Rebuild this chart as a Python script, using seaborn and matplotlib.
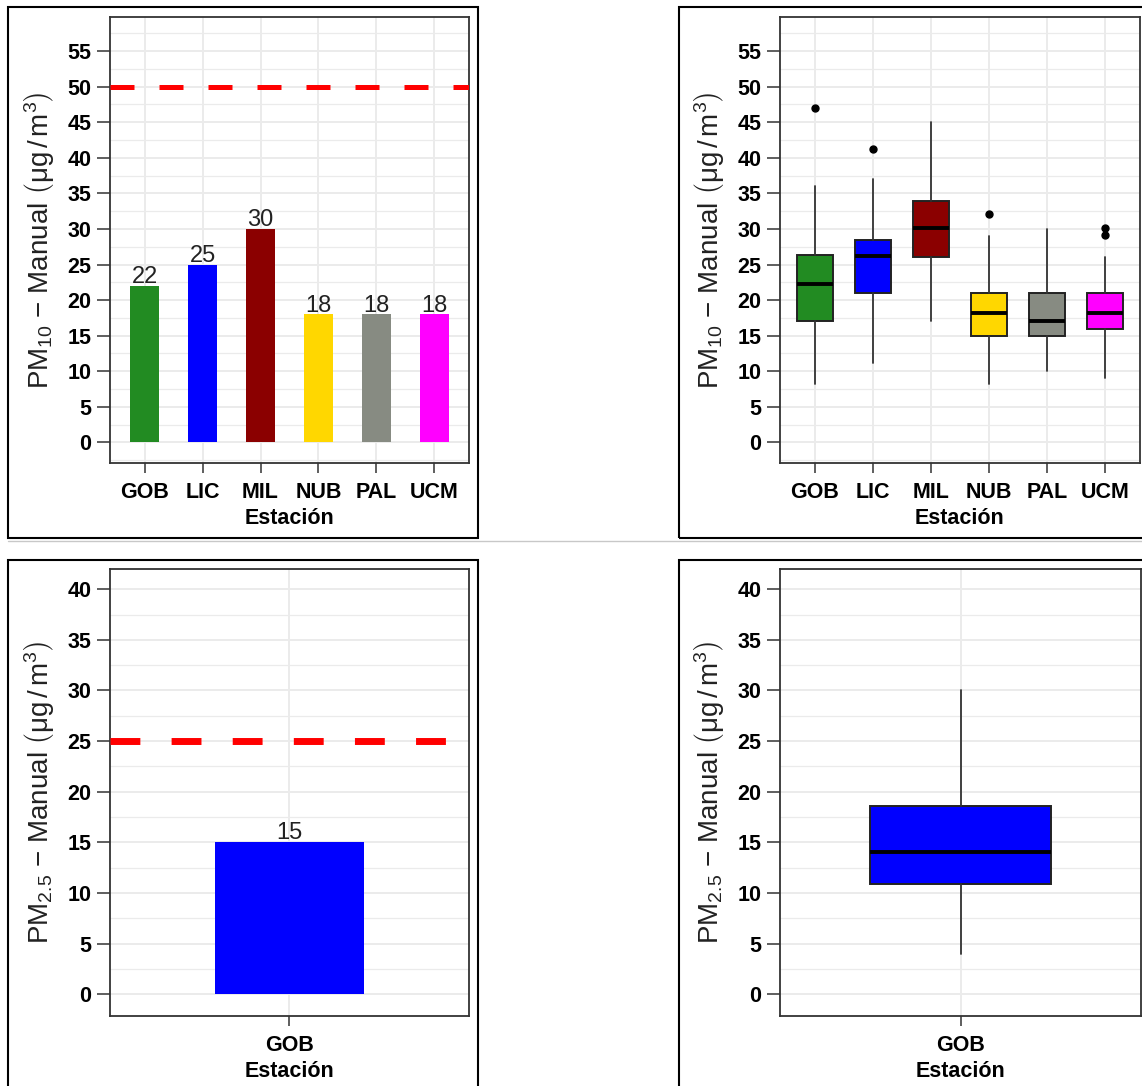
import matplotlib
matplotlib.use("Agg")
import matplotlib.pyplot as plt
from matplotlib.patches import Rectangle
from matplotlib.lines import Line2D
from matplotlib.ticker import MultipleLocator
import seaborn as sns

# data
stations = ['GOB', 'LIC', 'MIL', 'NUB', 'PAL', 'UCM']
station_colors = ['#228B22', '#0000FF', '#8B0000', '#FFD700', '#878B82', '#FF00FF']
pm10_mean = [22, 25, 30, 18, 18, 18]
pm10_q1 = [17, 21, 26, 15, 15, 16]
pm10_med = [22.3, 26.2, 30.2, 18.2, 17, 18.2]
pm10_q3 = [26.3, 28.4, 34, 21, 21, 21]
pm10_lo = [8.2, 11.2, 17, 8.2, 10, 9]
pm10_hi = [36, 37, 45, 29, 30, 26]
pm10_out = [[47], [41.2], [], [32.1], [], [29.2, 30.2]]
pm10_limit = 50

pm25_stations = ['GOB']
pm25_colors = ['#0000FF']
pm25_mean = [15]
pm25_q1 = [10.9]
pm25_med = [14]
pm25_q3 = [18.6]
pm25_lo = [4]
pm25_hi = [30]
pm25_out = [[]]
pm25_limit = 25

sns.set_theme(style='whitegrid')
plt.rcParams['font.family'] = ['Liberation Sans', 'DejaVu Sans']
plt.rcParams['mathtext.fontset'] = 'custom'
plt.rcParams['mathtext.rm'] = 'Liberation Sans'
plt.rcParams['mathtext.it'] = 'Liberation Sans:italic'
plt.rcParams['mathtext.bf'] = 'Liberation Sans:bold'
plt.rcParams['mathtext.default'] = 'regular'

W, H = 1142, 1086
fig = plt.figure(figsize=(W / 100, H / 100), dpi=100)
fig.patch.set_facecolor('white')


def ax_at(x0, y0, x1, y1):
    return fig.add_axes([x0 / W, 1 - y1 / H, (x1 - x0) / W, (y1 - y0) / H])


def frame(x0, y0, x1, y1):
    fig.patches.append(Rectangle((x0 / W, 1 - y1 / H), (x1 - x0) / W, (y1 - y0) / H,
                                 transform=fig.transFigure, fill=False,
                                 edgecolor='black', lw=1.5))


def style(ax, labels, ylim, ytop, pm):
    n = len(labels)
    ax.set_xlim(-0.6, n - 0.4)
    ax.set_ylim(*ylim)
    ax.set_xticks(range(n))
    ax.set_xticklabels(labels)
    ax.set_yticks(range(0, ytop + 1, 5))
    ax.yaxis.set_minor_locator(MultipleLocator(2.5))
    ax.set_facecolor('white')
    ax.set_axisbelow(True)
    ax.grid(True, which='major', color='#EBEBEB', lw=1.4)
    ax.grid(True, which='minor', axis='y', color='#EBEBEB', lw=0.9)
    ax.xaxis.grid(True, which='major', color='#EBEBEB', lw=1.4)
    for s in ax.spines.values():
        s.set_visible(True)
        s.set_color('#333333')
        s.set_linewidth(1.3)
    ax.tick_params(axis='y', which='major', length=9.5, width=1.1, color='#333333',
                   pad=4, labelsize=15.5, left=True)
    ax.tick_params(axis='x', which='major', length=7.5, width=1.1, color='#333333',
                   pad=6, labelsize=15.5, bottom=True)
    ax.tick_params(which='minor', length=0)
    for t in ax.get_xticklabels() + ax.get_yticklabels():
        t.set_fontweight('bold')
        t.set_color('black')
    ax.set_xlabel('Estación', fontsize=15.5, fontweight='bold', color='black', labelpad=4)
    ax.set_ylabel(r'PM$_{%s}$ − Manual $\left(\mu g\,/\,m^{3}\right)$' % pm,
                  fontsize=20, color='#222222', labelpad=8)


def bars(ax, labels, values, colors, limit, dash):
    sns.barplot(x=labels, y=values, hue=labels, palette=colors, width=0.5,
                dodge=False, legend=False, saturation=1, ax=ax, linewidth=0)
    for i, v in enumerate(values):
        ax.text(i, v + 0.35, str(v), ha='center', va='baseline', fontsize=17,
                color='#222222')
    ax.axhline(limit, color='#FF0000', lw=dash[0], ls=(0, dash[1:]), zorder=3)


def boxes(ax, colors, q1, med, q3, lo, hi, out, width):
    stats = []
    for i in range(len(colors)):
        stats.append({'q1': q1[i], 'med': med[i], 'q3': q3[i],
                      'whislo': lo[i], 'whishi': hi[i], 'fliers': out[i]})
    bp = ax.bxp(stats, positions=range(len(colors)), widths=width, patch_artist=True,
                showcaps=False, manage_ticks=False,
                boxprops=dict(edgecolor='#222222', lw=1.4),
                medianprops=dict(color='black', lw=2.8),
                whiskerprops=dict(color='#333333', lw=1.3),
                flierprops=dict(marker='o', markerfacecolor='black',
                                markeredgecolor='black', markersize=5))
    for patch, c in zip(bp['boxes'], colors):
        patch.set_facecolor(c)
        patch.set_zorder(2)


# top left: PM10 means
ax1 = ax_at(110, 17, 469, 463)
bars(ax1, stations, pm10_mean, station_colors, pm10_limit, (3.6, 4.8, 5.0))
style(ax1, stations, (-2.9, 59.8), 55, '10')

# top right: PM10 boxplots
ax2 = ax_at(780, 17, 1140, 463)
boxes(ax2, station_colors, pm10_q1, pm10_med, pm10_q3, pm10_lo, pm10_hi, pm10_out, 0.62)
style(ax2, stations, (-2.9, 59.8), 55, '10')

# bottom left: PM2.5 mean
ax3 = ax_at(110, 569, 469, 1016)
bars(ax3, pm25_stations, pm25_mean, pm25_colors, pm25_limit, (5.0, 4.3, 4.5))
style(ax3, pm25_stations, (-2.15, 42.0), 40, '2.5')

# bottom right: PM2.5 boxplot
ax4 = ax_at(780, 569, 1141, 1016)
boxes(ax4, pm25_colors, pm25_q1, pm25_med, pm25_q3, pm25_lo, pm25_hi, pm25_out, 0.6)
style(ax4, pm25_stations, (-2.15, 42.0), 40, '2.5')

frame(8, 7, 478, 538)
frame(679, 7, 1152, 538)
frame(8, 560, 478, 1096)
frame(679, 560, 1152, 1096)
fig.lines.append(Line2D([8 / W, 1], [1 - 540.5 / H] * 2, transform=fig.transFigure,
                        color='#C8C8C8', lw=1))

fig.savefig('out.png', dpi=100)
